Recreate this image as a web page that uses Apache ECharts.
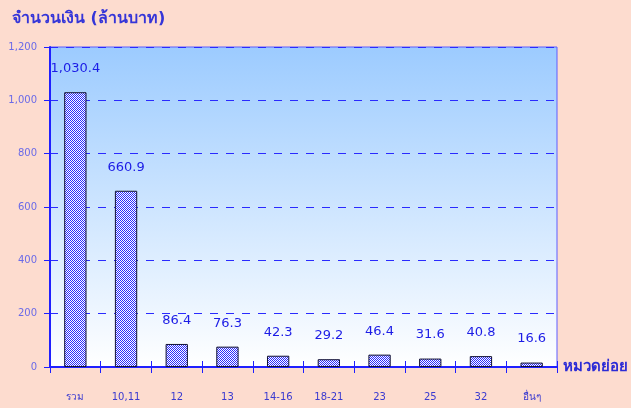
<!DOCTYPE html>
<html>
<head>
<meta charset="utf-8">
<script src="https://cdn.jsdelivr.net/npm/echarts@6/dist/echarts.min.js"></script>
<style>
  html, body { margin: 0; padding: 0; background: #fddccf; }
  #chart { width: 631px; height: 408px; }
</style>
</head>
<body>
<div id="chart"></div>
<script>
const categories = ['รวม', '10,11', '12', '13', '14-16', '18-21', '23', '25', '32', 'อื่นๆ']
const values = [1030.4, 660.9, 86.4, 76.3, 42.3, 29.2, 46.4, 31.6, 40.8, 16.6]
const yTicks = [0, 200, 400, 600, 800, 1000, 1200]

const fontFamily = 'Tahoma, "DejaVu Sans", "Noto Sans", sans-serif'

// checker pattern for bars
function checker() {
  const c = document.createElement('canvas')
  c.width = 2
  c.height = 2
  const ctx = c.getContext('2d')
  ctx.fillStyle = '#ffffff'
  ctx.fillRect(0, 0, 2, 2)
  ctx.fillStyle = '#2a2aff'
  ctx.fillRect(0, 0, 1, 1)
  ctx.fillRect(1, 1, 1, 1)
  return c
}

const chart = echarts.init(document.getElementById('chart'))
chart.setOption({
  backgroundColor: '#fddccf',
  animation: false,
  title: {
    text: 'จำนวนเงิน (ล้านบาท)',
    left: 7,
    top: 6,
    textStyle: {
      color: '#3535d8',
      fontSize: 16,
      fontWeight: 'bold',
      fontFamily: fontFamily
    }
  },
  grid: {
    left: 50,
    right: 74,
    top: 47,
    bottom: 41,
    show: true,
    borderColor: '#5c5cff',
    borderWidth: 1,
    backgroundColor: new echarts.graphic.LinearGradient(0, 0, 0, 1, [
      { offset: 0, color: '#9ccbff' },
      { offset: 1, color: '#ffffff' }
    ])
  },
  xAxis: [{
    type: 'category',
    data: categories,
    name: 'หมวดย่อย',
    nameLocation: 'end',
    nameGap: 6,
    nameTextStyle: {
      color: '#2b2bd6',
      fontSize: 15,
      fontWeight: 'bold',
      fontFamily: fontFamily,
      verticalAlign: 'middle',
      align: 'left'
    },
    axisLine: { lineStyle: { color: '#1f1fff', width: 2 } },
    axisTick: { show: true, length: 6, lineStyle: { color: '#1f1fff' } },
    axisLabel: {
      margin: 25,
      color: '#3a3ad0',
      fontSize: 10,
      fontFamily: fontFamily
    }
  }, {
    type: 'category',
    data: categories,
    position: 'bottom',
    axisLine: { show: false },
    axisTick: { show: true, inside: true, length: 6, lineStyle: { color: '#1f1fff' } },
    axisLabel: { show: false }
  }],
  yAxis: {
    type: 'value',
    min: 0,
    max: 1200,
    interval: 200,
    axisLine: { show: true, lineStyle: { color: '#1f1fff', width: 2 } },
    axisTick: { show: true, length: 6, lineStyle: { color: '#1f1fff' } },
    axisLabel: {
      margin: 13,
      color: '#6a6ae8',
      fontSize: 10,
      fontFamily: fontFamily,
      formatter(v) {
        return yTicks.indexOf(v) >= 0 ? v.toLocaleString('en-US') : ''
      }
    },
    splitLine: {
      show: true,
      lineStyle: { color: '#2a2aff', type: [8, 8], width: 1 }
    }
  },
  series: [{
    type: 'bar',
    data: values,
    barWidth: '44%',
    itemStyle: {
      color: { image: checker(), repeat: 'repeat' },
      borderColor: '#111133',
      borderWidth: 1
    },
    label: {
      show: true,
      position: 'top',
      distance: 17,
      color: '#1c1ce6',
      fontSize: 13,
      fontFamily: fontFamily,
      formatter(p) {
        return p.value.toLocaleString('en-US', { minimumFractionDigits: 1 })
      }
    }
  }]
})
</script>
</body>
</html>
